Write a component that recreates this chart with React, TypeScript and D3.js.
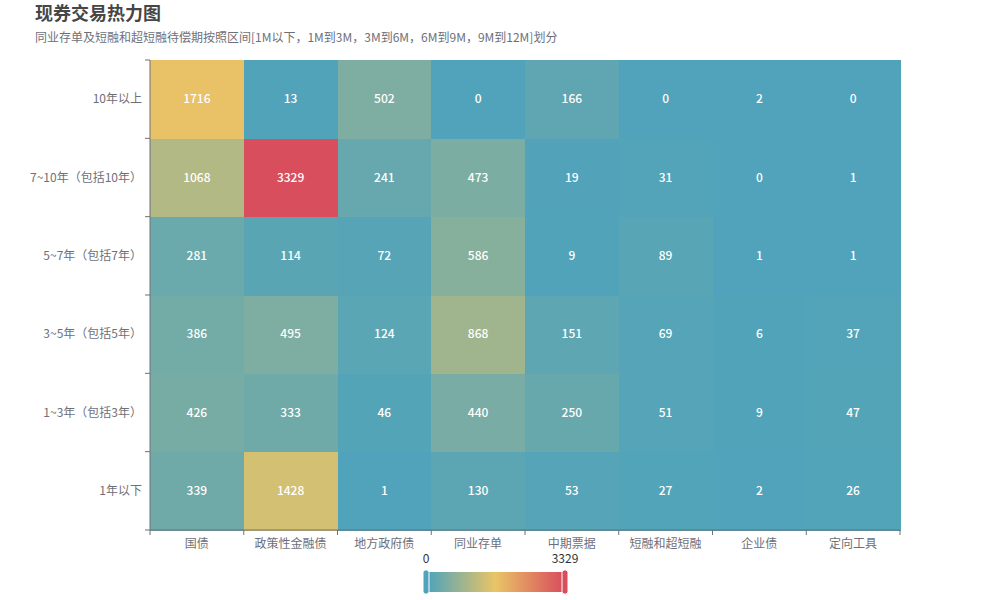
import { useMemo } from 'react'
import * as d3 from 'd3'

const xCategories = ['国债', '政策性金融债', '地方政府债', '同业存单', '中期票据', '短融和超短融', '企业债', '定向工具']
// bottom to top, as in the category axis
const yCategories = ['1年以下', '1~3年（包括3年）', '3~5年（包括5年）', '5~7年（包括7年）', '7~10年（包括10年）', '10年以上']

const row1Below = [339, 1428, 1, 130, 53, 27, 2, 26]
const row1to3 = [426, 333, 46, 440, 250, 51, 9, 47]
const row3to5 = [386, 495, 124, 868, 151, 69, 6, 37]
const row5to7 = [281, 114, 72, 586, 9, 89, 1, 1]
const row7to10 = [1068, 3329, 241, 473, 19, 31, 0, 1]
const row10Above = [1716, 13, 502, 0, 166, 0, 2, 0]

const rows = [row1Below, row1to3, row3to5, row5to7, row7to10, row10Above]

const mapColors = ['#50a3ba', '#e9c566', '#d94e5d']
const minValue = 0
const maxValue = 3329

const W = 1000
const H = 600
const grid = { l: 150, r: 900, t: 60, b: 530 }
const FONT = "'Microsoft YaHei', 'Noto Sans CJK SC', sans-serif"
const AXIS = '#6E7079'

export default function App() {
  const cells = useMemo(() => {
    const out: { x: string; y: string; v: number }[] = []
    rows.forEach((vals, yi) => vals.forEach((v, xi) => out.push({ x: xCategories[xi], y: yCategories[yi], v })))
    return out
  }, [])

  const x = d3.scaleBand().domain(xCategories).range([grid.l, grid.r])
  const y = d3.scaleBand().domain(yCategories).range([grid.b, grid.t])
  const color = d3
    .scaleLinear<string>()
    .domain([minValue, (minValue + maxValue) / 2, maxValue])
    .range(mapColors)
    .interpolate(d3.interpolateRgb)

  // visual map bar
  const vm = { x0: 428, x1: 563, y0: 572, y1: 592 }

  return (
    <svg
      width={W}
      height={H}
      style={{ position: 'absolute', left: 0, top: 0, display: 'block', background: '#fff' }}
      fontFamily={FONT}
    >
      <defs>
        <linearGradient id="vmGrad" x1="0" x2="1" y1="0" y2="0">
          {mapColors.map((c, i) => (
            <stop key={i} offset={i / (mapColors.length - 1)} stopColor={c} />
          ))}
        </linearGradient>
      </defs>

      {/* title */}
      <text x={35} y={20} fontSize={18} fontWeight="bold" fill="#464646">现券交易热力图</text>
      <text x={35} y={42} fontSize={12} fill={AXIS}>
        同业存单及短融和超短融待偿期按照区间[1M以下，1M到3M，3M到6M，6M到9M，9M到12M]划分
      </text>

      {/* cells */}
      <g shapeRendering="crispEdges">
        {cells.map((c, i) => (
          <rect
            key={i}
            x={x(c.x)!}
            y={y(c.y)!}
            width={x.bandwidth() + 0.5}
            height={y.bandwidth() + 0.5}
            fill={color(c.v)}
          />
        ))}
      </g>
      {cells.map((c, i) => (
        <text
          key={'t' + i}
          x={x(c.x)! + x.bandwidth() / 2}
          y={y(c.y)! + y.bandwidth() / 2 - 1.5}
          textAnchor="middle"
          dominantBaseline="central"
          fontSize={12}
          fontWeight={500}
          fill="#fff"
        >
          {c.v}
        </text>
      ))}

      {/* y axis */}
      <line x1={grid.l} x2={grid.l} y1={grid.t} y2={grid.b} stroke={AXIS} />
      {d3.range(yCategories.length + 1).map(i => {
        const yy = grid.b - i * y.step()
        return <line key={i} x1={grid.l - 5} x2={grid.l} y1={yy} y2={yy} stroke={AXIS} />
      })}
      {yCategories.map(c => (
        <text
          key={c}
          x={grid.l - 8}
          y={y(c)! + y.bandwidth() / 2 - 1.5}
          textAnchor="end"
          dominantBaseline="central"
          fontSize={12}
          fill={AXIS}
        >
          {c}
        </text>
      ))}

      {/* x axis */}
      <line x1={grid.l} x2={grid.r} y1={grid.b} y2={grid.b} stroke={AXIS} />
      {d3.range(xCategories.length + 1).map(i => {
        const xx = grid.l + i * x.step()
        return <line key={i} x1={xx} x2={xx} y1={grid.b} y2={grid.b + 5} stroke={AXIS} />
      })}
      {xCategories.map(c => (
        <text
          key={c}
          x={x(c)! + x.bandwidth() / 2}
          y={grid.b + 12}
          textAnchor="middle"
          dominantBaseline="central"
          fontSize={12}
          fill={AXIS}
        >
          {c}
        </text>
      ))}

      {/* visual map */}
      <rect x={vm.x0} y={vm.y0} width={vm.x1 - vm.x0} height={vm.y1 - vm.y0} fill="url(#vmGrad)" />
      <rect x={vm.x0 - 5} y={vm.y0 - 2} width={6} height={vm.y1 - vm.y0 + 4} rx={2.5} fill={mapColors[0]} stroke="#fff" strokeWidth={1} />
      <rect x={vm.x1 - 1} y={vm.y0 - 2} width={6} height={vm.y1 - vm.y0 + 4} rx={2.5} fill={mapColors[2]} stroke="#fff" strokeWidth={1} />
      <text x={vm.x0 - 2} y={557} textAnchor="middle" dominantBaseline="central" fontSize={12} fill="#333">
        {minValue}
      </text>
      <text x={vm.x1 + 2} y={557} textAnchor="middle" dominantBaseline="central" fontSize={12} fill="#333">
        {maxValue}
      </text>
    </svg>
  )
}
